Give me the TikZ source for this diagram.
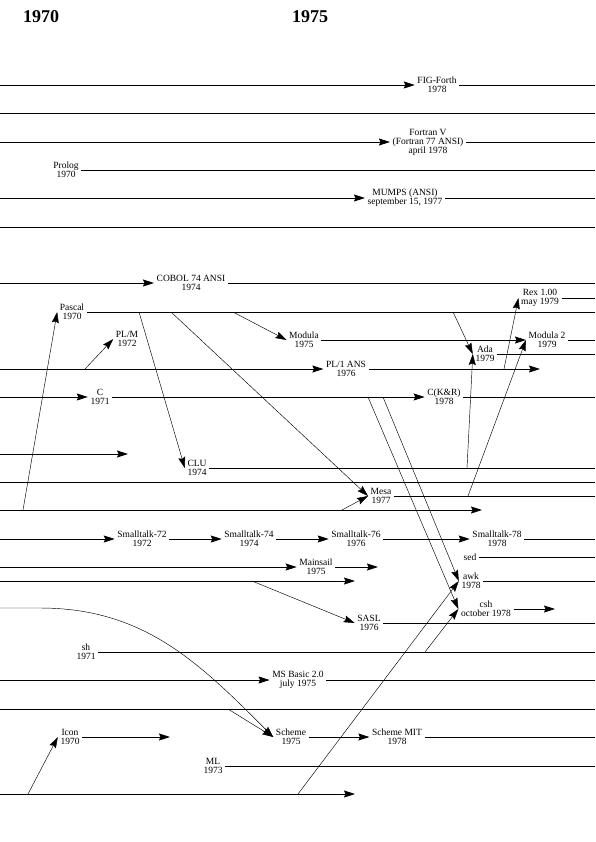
\documentclass[tikz,border=0pt]{standalone}
\usepackage{fontspec}
\setmainfont{Liberation Serif}
\usetikzlibrary{arrows.meta}
\begin{document}
\begin{tikzpicture}[x=1pt,y=-1pt,
  lab/.style={align=center,inner sep=2.5pt,font=\fontsize{9.5}{9}\selectfont},
  yearlab/.style={font=\fontsize{18}{20}\selectfont\bfseries,inner sep=0pt},
  track/.style={line width=0.8pt},
  link/.style={line width=0.45pt},
  arr/.style={-{Stealth[length=11pt,width=7pt,inset=1.5pt]}},
]
\useasboundingbox (0,0) rectangle (595,842);
\foreach \y in {85,113,142,170,198,227,283,298,312,340,354,369,397,454,468,482,496,510,539,557,567,581,609,623,652,680,709,737,766,794}{
  \coordinate (w\y) at (0,\y);
  \coordinate (e\y) at (595,\y);
}
% free ends of open arrows
\coordinate (pl1end) at (540,369);
\coordinate (t454end) at (128,454);
\coordinate (t510end) at (482,510);
\coordinate (t567end) at (378,567);
\coordinate (t581end) at (355,581);
\coordinate (t609end) at (555,609);
\coordinate (t737end) at (170,737);
\coordinate (t794end) at (355,794);
% start points of links on the tracks
\coordinate (d1s) at (23,510);
\coordinate (d2s) at (85,369);
\coordinate (d3s) at (139,312);
\coordinate (d4s) at (171,312);
\coordinate (d5s) at (233,312);
\coordinate (d6s) at (453,312);
\coordinate (d7s) at (467,468);
\coordinate (d8s) at (468,496);
\coordinate (d9s) at (504,369);
\coordinate (d10s) at (342,510);
\coordinate (d11s) at (368,397);
\coordinate (d12s) at (383,397);
\coordinate (d13s) at (298,794);
\coordinate (d14s) at (425,652);
\coordinate (d15s) at (252,581);
\coordinate (d16s) at (228,709);
\coordinate (d18s) at (28,794);
\coordinate (cstart) at (0,608);
\coordinate (cbend) at (40,608);

% headings
\node[yearlab] (y1970) at (41,17) {1970};
\node[yearlab] (y1975) at (310,17) {1975};

% labels
\node[lab] (figforth) at (437,85) {FIG-Forth\\1978};
\node[lab] (fortran) at (428,142) {Fortran V\\(Fortran 77 ANSI)\\april 1978};
\node[lab] (prolog) at (66,170) {Prolog\\1970};
\node[lab] (mumps) at (405,198) {MUMPS (ANSI)\\september 15, 1977};
\node[lab] (cobol) at (191,283) {COBOL 74 ANSI\\1974};
\node[lab] (rex) at (540,298) {Rex 1.00\\may 1979};
\node[lab] (pascal) at (72,312) {Pascal\\1970};
\node[lab] (plm) at (127,339) {PL/M\\1972};
\node[lab] (modula) at (304,340) {Modula\\1975};
\node[lab] (modula2) at (547,340) {Modula 2\\1979};
\node[lab] (ada) at (485,354) {Ada\\1979};
\node[lab] (pl1) at (346,369) {PL/1 ANS\\1976};
\node[lab] (clang) at (100,397) {C\\1971};
\node[lab] (ckr) at (444,397) {C(K\&R)\\1978};
\node[lab] (clu) at (197,468) {CLU\\1974};
\node[lab] (mesa) at (381,496) {Mesa\\1977};
\node[lab] (st72) at (142,539) {Smalltalk-72\\1972};
\node[lab] (st74) at (249,539) {Smalltalk-74\\1974};
\node[lab] (st76) at (356,539) {Smalltalk-76\\1976};
\node[lab] (st78) at (497,539) {Smalltalk-78\\1978};
\node[lab] (sed) at (470,557) {sed};
\node[lab] (mainsail) at (316,567) {Mainsail\\1975};
\node[lab] (awk) at (471,581) {awk\\1978};
\node[lab] (csh) at (486,609) {csh\\october 1978};
\node[lab] (sasl) at (369,623) {SASL\\1976};
\node[lab] (sh) at (86,652) {sh\\1971};
\node[lab] (msbasic) at (298,680) {MS Basic 2.0\\july 1975};
\node[lab] (icon) at (70,737) {Icon\\1970};
\node[lab] (scheme) at (291,737) {Scheme\\1975};
\node[lab] (schememit) at (397,737) {Scheme MIT\\1978};
\node[lab] (ml) at (213,766) {ML\\1973};

% tracks
\draw[track,arr] (w85) -- (figforth.west);
\draw[track] (figforth.east) -- (e85);
\draw[track] (w113) -- (e113);
\draw[track,arr] (w142) -- (fortran.west);
\draw[track] (fortran.east) -- (e142);
\draw[track] (prolog.east) -- (e170);
\draw[track,arr] (w198) -- (mumps.west);
\draw[track] (mumps.east) -- (e198);
\draw[track] (w227) -- (e227);
\draw[track,arr] (w283) -- (cobol.west);
\draw[track] (cobol.east) -- (e283);
\draw[track] (rex.east) -- (e298);
\draw[track] (pascal.east) -- (e312);
\draw[track,arr] (modula.east) -- (modula2.west);
\draw[track] (modula2.east) -- (e340);
\draw[track] (ada.east) -- (e354);
\draw[track,arr] (w369) -- (pl1.west);
\draw[track,arr] (pl1.east) -- (pl1end);
\draw[track,arr] (w397) -- (clang.west);
\draw[track,arr] (clang.east) -- (ckr.west);
\draw[track] (ckr.east) -- (e397);
\draw[track,arr] (w454) -- (t454end);
\draw[track] (clu.east) -- (e468);
\draw[track] (w482) -- (e482);
\draw[track] (mesa.east) -- (e496);
\draw[track,arr] (w510) -- (t510end);
\draw[track,arr] (w539) -- (st72.west);
\draw[track,arr] (st72.east) -- (st74.west);
\draw[track,arr] (st74.east) -- (st76.west);
\draw[track,arr] (st76.east) -- (st78.west);
\draw[track] (st78.east) -- (e539);
\draw[track] (sed.east) -- (e557);
\draw[track,arr] (w567) -- (mainsail.west);
\draw[track,arr] (mainsail.east) -- (t567end);
\draw[track,arr] (w581) -- (t581end);
\draw[track] (awk.east) -- (e581);
\draw[track,arr] (csh.east) -- (t609end);
\draw[track] (sasl.east) -- (e623);
\draw[track] (sh.east) -- (e652);
\draw[track,arr] (w680) -- (msbasic.west);
\draw[track] (msbasic.east) -- (e680);
\draw[track] (w709) -- (e709);
\draw[track,arr] (icon.east) -- (t737end);
\draw[track,arr] (scheme.east) -- (schememit.west);
\draw[track] (schememit.east) -- (e737);
\draw[track] (ml.east) -- (e766);
\draw[track,arr] (w794) -- (t794end);

% links
\draw[link,arr] (d1s) -- (pascal.west);
\draw[link,arr] (d2s) -- (plm.west);
\draw[link,arr] (d3s) -- (clu.west);
\draw[link,arr] (d4s) -- (mesa.west);
\draw[link,arr] (d5s) -- (modula.west);
\draw[link,arr] (d6s) -- (ada.west);
\draw[link,arr] (d7s) -- (ada.west);
\draw[link,arr] (d8s) -- (modula2.west);
\draw[link,arr] (d9s) -- (rex.west);
\draw[link,arr] (d10s) -- (mesa.west);
\draw[link,arr] (d11s) -- (csh.west);
\draw[link,arr] (d12s) -- (awk.west);
\draw[link,arr] (d13s) -- (awk.west);
\draw[link,arr] (d14s) -- (csh.west);
\draw[link,arr] (d15s) -- (sasl.west);
\draw[link,arr] (d16s) -- (scheme.west);
\draw[link,arr] (cstart) -- (cbend) to[out=0,in=135] (scheme.west);
\draw[link,arr] (d18s) -- (icon.west);
\end{tikzpicture}
\end{document}
